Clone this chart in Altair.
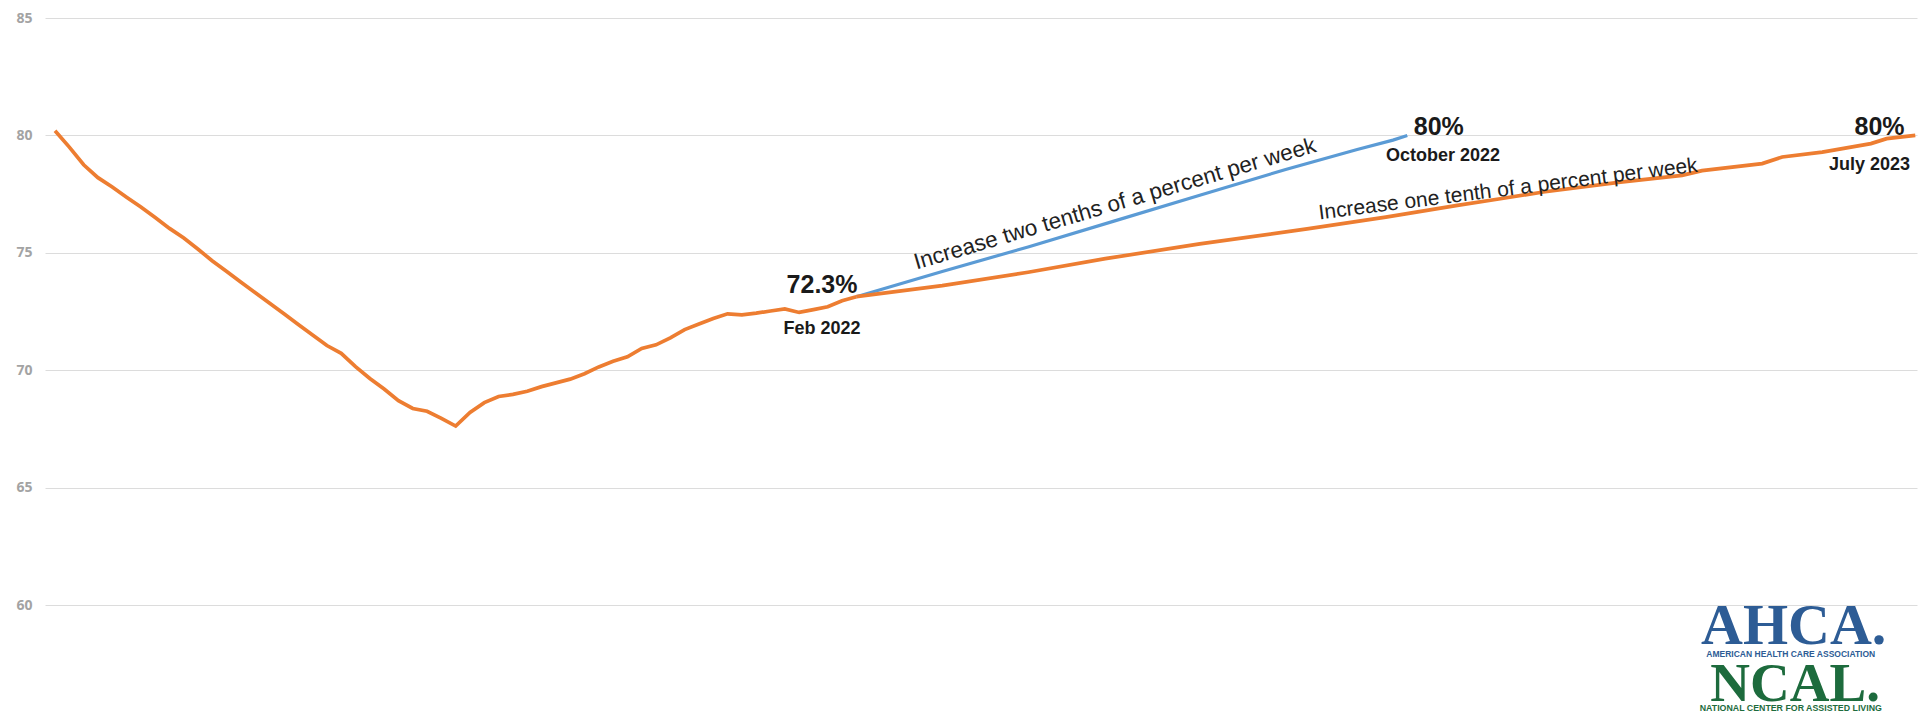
import altair as alt
import pandas as pd

# ---- data ----
hist_week = list(range(57))
hist_value = [80.2, 79.5, 78.75, 78.2, 77.8, 77.37, 76.95, 76.5, 76.04, 75.63,
              75.15, 74.65, 74.2, 73.75, 73.3, 72.85, 72.4, 71.95, 71.5, 71.05,
              70.72, 70.15, 69.65, 69.2, 68.7, 68.37, 68.25, 67.95, 67.62, 68.2,
              68.62, 68.88, 68.97, 69.1, 69.3, 69.46, 69.62, 69.85, 70.14, 70.38,
              70.57, 70.93, 71.08, 71.38, 71.73, 71.97, 72.2, 72.4, 72.36, 72.43,
              72.52, 72.61, 72.46, 72.58, 72.7, 72.96, 73.13]

blue_week = [56, 62, 68, 74, 80, 86, 91, 93.5, 94.5]
blue_value = [73.13, 74.2, 75.25, 76.35, 77.45, 78.55, 79.4, 79.8, 80.0]

orange_week = [56, 62, 68, 73.4, 80, 87.5, 93, 98, 101, 104, 109.4, 113.7, 115.1,
               119.3, 120.7, 123.5, 126.9, 128, 130]
orange_value = [73.13, 73.6, 74.17, 74.75, 75.38, 76.02, 76.52, 77.02, 77.3, 77.59,
                78.01, 78.3, 78.5, 78.8, 79.08, 79.29, 79.65, 79.86, 80.0]

y_ticks = [60, 65, 70, 75, 80, 85]

big_labels = ["72.3%", "80%", "80%"]
big_week = [53.6, 96.7, 127.5]
big_value = [73.62, 80.36, 80.36]

small_labels = ["Feb 2022", "October 2022", "July 2023"]
small_week = [53.6, 97.0, 126.8]
small_value = [71.74, 79.12, 78.76]

blue_note = ["Increase two tenths of a percent per week"]
blue_note_week = [74.2]
blue_note_value = [76.8]

orange_note = ["Increase one tenth of a percent per week"]
orange_note_week = [101.6]
orange_note_value = [77.44]

logo_text = ["AHCA.", "AMERICAN HEALTH CARE ASSOCIATION", "NCAL.", "NATIONAL CENTER FOR ASSISTED LIVING"]
logo_week = [121.5, 121.3, 121.6, 121.3]
logo_value = [58.34, 57.8, 55.9, 55.5]

# ---- tables ----
hist = pd.DataFrame({"week": hist_week, "value": hist_value})
blue = pd.DataFrame({"week": blue_week, "value": blue_value})
orange = pd.DataFrame({"week": orange_week, "value": orange_value})
big = pd.DataFrame({"week": big_week, "value": big_value, "text": big_labels})
small = pd.DataFrame({"week": small_week, "value": small_value, "text": small_labels})
bnote = pd.DataFrame({"week": blue_note_week, "value": blue_note_value, "text": blue_note})
onote = pd.DataFrame({"week": orange_note_week, "value": orange_note_value, "text": orange_note})
logo = pd.DataFrame({"week": logo_week, "value": logo_value, "text": logo_text})

xs = alt.Scale(domain=[-0.7, 130.12], nice=False, zero=False)
ys = alt.Scale(domain=[60, 85], nice=False, zero=False)

X = alt.X("week:Q", scale=xs, axis=None)
Y = alt.Y("value:Q", scale=ys,
          axis=alt.Axis(values=y_ticks, grid=True, gridColor="#dcdcdc", gridWidth=1,
                        domain=False, ticks=False, tickSize=0, labelPadding=13,
                        labelColor="#a3a3a3", labelFontSize=14, labelFont="Open Sans",
                        labelFontWeight="bold", title=None))

blue_line = alt.Chart(blue).mark_line(color="#5B9BD5", strokeWidth=3.2).encode(x=X, y=Y)
hist_line = alt.Chart(hist).mark_line(color="#ED7D31", strokeWidth=3.7).encode(x=X, y=Y)
orange_line = alt.Chart(orange).mark_line(color="#ED7D31", strokeWidth=3.7).encode(x=X, y=Y)

bold_font = "Liberation Sans"

big_text = alt.Chart(big).mark_text(font=bold_font, fontSize=25, fontWeight="bold",
                                     color="#1a1a1a", align="center", baseline="middle").encode(
    x=X, y=Y, text="text:N")
small_text = alt.Chart(small).mark_text(font=bold_font, fontSize=18, fontWeight="bold",
                                         color="#1a1a1a", align="center", baseline="middle").encode(
    x=X, y=Y, text="text:N")
bnote_text = alt.Chart(bnote).mark_text(font="Liberation Sans", fontSize=22.5, color="#222222",
                                         align="center", baseline="alphabetic", angle=343.6).encode(
    x=X, y=Y, text="text:N")
onote_text = alt.Chart(onote).mark_text(font="Liberation Sans", fontSize=21, color="#222222",
                                         align="center", baseline="alphabetic", angle=352.8).encode(
    x=X, y=Y, text="text:N")

logo_colors = ["#2d5c95", "#2d5c95", "#1d6b3d", "#1d6b3d"]
logo_sizes = [58, 8.5, 55, 8.8]
logo_layers = []
for i in range(len(logo_text)):
    d = logo.iloc[[i]]
    logo_layers.append(
        alt.Chart(d).mark_text(font="Liberation Serif" if i % 2 == 0 else "Liberation Sans",
                               fontSize=logo_sizes[i], fontWeight="bold",
                               color=logo_colors[i], align="center", baseline="alphabetic").encode(
            x=X, y=Y, text="text:N")
    )

chart = alt.layer(
    blue_line, hist_line, orange_line,
    big_text, small_text, bnote_text, onote_text, *logo_layers
).properties(
    width=1872, height=587,
    autosize=alt.AutoSizeParams(type="none"),
    padding={"left": 37, "top": 10, "right": 2, "bottom": 108},
    background="white",
).configure_view(stroke=None)

chart.save("out.html", embed_options={"renderer": "svg", "actions": False})
